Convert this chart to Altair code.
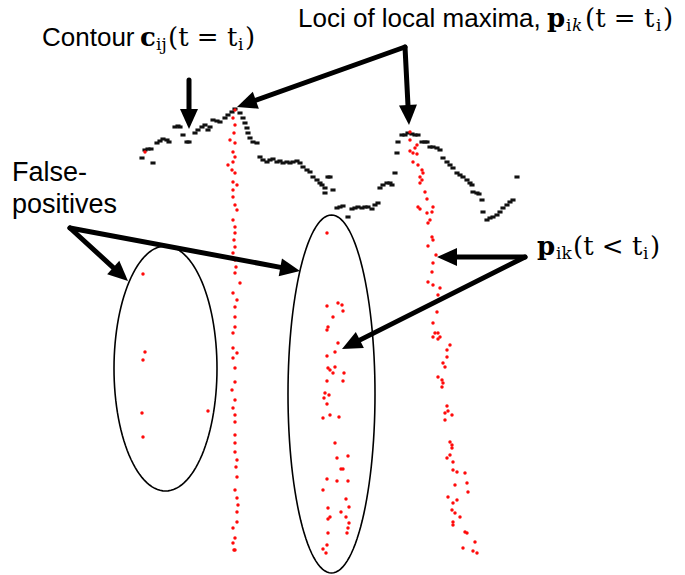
import altair as alt
import pandas as pd
import numpy as np

W, H = 685, 575

# ---- black contour c_ij(t = t_i) (pixel-space coordinates)
contour_x = [142, 145, 148, 151, 153, 157, 160, 163, 167, 169, 175, 178, 180, 183, 187, 189,
             195, 198, 202, 205, 208, 210, 213, 217, 220, 225, 228, 232, 235, 240, 243, 245,
             247, 248, 250, 253, 257, 260, 263, 267, 270, 273, 277, 280, 283, 287, 290, 293,
             297, 300, 303, 307, 310, 313, 317, 320, 322, 325, 325, 328, 330, 333, 337, 340,
             343, 348, 352, 355, 358, 362, 365, 368, 372, 375, 378, 380, 383, 387, 390, 392,
             395, 397, 398, 402, 405, 408, 412, 415, 418, 422, 425, 427, 430, 433, 437, 440,
             443, 447, 450, 453, 457, 460, 463, 467, 470, 472, 473, 477, 479, 482, 483, 487,
             490, 493, 497, 500, 503, 507, 510, 513, 517]
contour_y = [158, 150, 149, 149, 163, 143, 141, 139, 140, 142, 127, 126, 127, 135, 142, 142,
             133, 130, 127, 125, 130, 127, 120, 121, 122, 118, 115, 112, 109, 113, 118, 123,
             128, 133, 138, 142, 143, 157, 160, 162, 160, 159, 162, 161, 163, 162, 163, 162,
             161, 163, 167, 170, 172, 177, 180, 183, 185, 188, 193, 177, 177, 190, 208, 207,
             206, 217, 209, 208, 207, 208, 207, 207, 209, 205, 203, 188, 185, 183, 183, 185,
             173, 153, 142, 135, 135, 133, 134, 135, 135, 142, 142, 142, 147, 147, 148, 150,
             158, 162, 165, 168, 173, 175, 177, 180, 183, 185, 192, 193, 194, 200, 212, 220,
             218, 217, 215, 212, 208, 205, 202, 200, 177]

# ---- red loci of local maxima p_ik(t <= t_i)
red_x = [145,
         235, 233, 235, 234, 230, 235, 233, 235, 233, 228, 232, 235, 233, 237, 233, 233, 235,
         237, 233, 235, 235, 234, 235, 233, 235, 236, 235, 240, 233, 237, 235, 235, 235, 233,
         233, 237, 233, 235, 235, 232, 235, 233, 235, 235, 235, 235, 235, 237, 236, 237, 235,
         237, 238, 237, 237, 233, 235, 233, 234, 235,
         410, 410, 417, 415, 410, 413, 417, 413, 418, 422, 423, 420, 422, 420, 425, 427, 418,
         420, 433, 432, 427, 430, 428, 432, 433, 428, 436, 433, 432, 428, 433, 440, 438, 433,
         437, 433, 435, 440, 438, 433, 438, 450, 447, 447, 443, 445, 438, 442, 443, 442, 447,
         445, 448, 452, 445, 450, 452, 452, 447, 450, 453, 453, 457, 465, 455, 467, 468, 448,
         457, 453, 452, 455, 460, 453, 453, 465, 467, 475, 463, 473, 477]
red_y = [152,
         110, 118, 125, 133, 140, 143, 152, 157, 162, 165, 170, 173, 182, 185, 190, 197, 205,
         210, 220, 227, 233, 240, 247, 253, 260, 267, 273, 283, 293, 300, 307, 317, 327, 333,
         348, 353, 358, 368, 382, 390, 400, 408, 415, 422, 435, 443, 452, 460, 467, 477, 490,
         498, 505, 512, 522, 528, 538, 543, 550, 550,
         132, 140, 145, 148, 151, 153, 154, 162, 165, 170, 173, 177, 180, 183, 192, 199, 207,
         209, 207, 212, 213, 220, 223, 237, 240, 246, 255, 263, 272, 282, 285, 288, 295, 303,
         312, 323, 333, 337, 333, 337, 339, 345, 350, 357, 363, 367, 377, 380, 383, 387, 406,
         413, 411, 415, 420, 442, 445, 448, 458, 455, 462, 470, 472, 473, 485, 483, 492, 497,
         500, 503, 510, 513, 517, 522, 525, 532, 533, 542, 548, 551, 553]

# ---- false positives
fp_x = [143, 145, 143, 142, 208, 143,
        327, 327, 338, 342, 343, 333, 328, 327, 338, 335, 327, 328, 335, 330, 333, 344, 343,
        327, 325, 329, 324, 327, 323, 330, 339, 335, 337, 348, 341, 343, 327, 337, 348, 323,
        346, 328, 349, 341, 330, 328, 346, 349, 348, 347, 328, 327, 323, 326]
fp_y = [274, 352, 360, 413, 411, 437,
        233, 306, 303, 305, 311, 317, 327, 330, 343, 352, 356, 368, 367, 370, 373, 373, 381,
        381, 393, 395, 398, 404, 418, 415, 417, 443, 458, 456, 469, 469, 479, 481, 481, 490,
        499, 508, 507, 512, 517, 519, 517, 523, 528, 533, 533, 545, 549, 553]

# ---- ellipses marking false positives: centre x, centre y, half-width, half-height
ell_cx = [165.5, 331.5]
ell_cy = [368.5, 394.0]
ell_rx = [51.5, 43.5]
ell_ry = [122.5, 179.0]

# ---- arrows: shaft start -> tip
arr_x0 = [189, 405, 405, 70, 70, 525, 525]
arr_y0 = [80, 47, 47, 228, 228, 257, 257]
arr_x1 = [189, 237, 409, 128, 300, 437, 342]
arr_y1 = [129, 107, 125, 281, 271, 257, 349]

# ---- labels
sans_text = ["Contour", "Loci of local maxima,", "False-", "positives"]
sans_x = [42, 298, 12, 12]
sans_y = [46, 27, 181, 213]
sans_size = [26, 26, 27, 27]

bold_text = ["c", "p", "p"]
bold_x = [140, 547, 537]
bold_y = [46, 27, 255]

serif_text = ["(t = t", ")", "(t = t", ")", "(t < t", ")"]
serif_x = [168, 245, 585, 663, 573, 650]
serif_y = [46, 46, 27, 27, 255, 255]

sub_text = ["ij", "i", "i", "i", "ik", "i"]
sub_x = [156, 238, 566, 656, 556, 643]
sub_y = [50, 50, 31, 31, 259, 259]

ital_sub_text = ["k"]
ital_sub_x = [572]
ital_sub_y = [31]

# ------------------------------------------------------------------
xs = alt.Scale(domain=[0, W], nice=False, zero=False)
ys = alt.Scale(domain=[0, H], nice=False, zero=False, reverse=True)
X = lambda f="x": alt.X(f"{f}:Q", scale=xs, axis=None)
Y = lambda f="y": alt.Y(f"{f}:Q", scale=ys, axis=None)

contour_df = pd.DataFrame({"x": contour_x, "y": contour_y})
red_df = pd.DataFrame({"x": red_x + fp_x, "y": red_y + fp_y})

# ellipse outlines
rows = []
t = np.linspace(0, 2 * np.pi, 121)
for k in range(len(ell_cx)):
    for i, a in enumerate(t):
        rows.append({"e": k, "o": i,
                     "x": ell_cx[k] + ell_rx[k] * np.cos(a),
                     "y": ell_cy[k] + ell_ry[k] * np.sin(a)})
ell_df = pd.DataFrame(rows)

# arrows: shaft ends and heads derived from start/tip
HEAD = 20.0
shaft, heads = [], []
for x0, y0, x1, y1 in zip(arr_x0, arr_y0, arr_x1, arr_y1):
    dx, dy = x1 - x0, y1 - y0
    L = float(np.hypot(dx, dy))
    ux, uy = dx / L, dy / L
    shaft.append({"x": x0, "y": y0, "x2": x1 - ux * (HEAD - 3), "y2": y1 - uy * (HEAD - 3)})
    ang = (np.degrees(np.arctan2(dx, -dy)) + 360) % 360
    heads.append({"x": x1 - ux * HEAD / 2, "y": y1 - uy * HEAD / 2, "ang": ang})
shaft_df = pd.DataFrame(shaft)
head_df = pd.DataFrame(heads)

ellipses = alt.Chart(ell_df).mark_line(color="black", strokeWidth=1.6).encode(
    x=X(), y=Y(), detail="e:N", order="o:Q")

contour = alt.Chart(contour_df).mark_point(
    shape="M-1,-0.6L1,-0.6L1,0.6L-1,0.6Z", filled=True, color="#111111",
    size=26, opacity=1).encode(x=X(), y=Y())

reds = alt.Chart(red_df).mark_circle(color="#ff0a0a", size=12, opacity=1).encode(x=X(), y=Y())

shafts = alt.Chart(shaft_df).mark_rule(color="black", strokeWidth=5, strokeCap="round").encode(
    x=X(), y=Y(), x2="x2:Q", y2="y2:Q")

arrowheads = alt.Chart(head_df).mark_point(
    shape="M0,-1L0.9,1L-0.9,1Z", filled=True, color="black", size=HEAD ** 2, opacity=1
).encode(x=X(), y=Y(), angle=alt.Angle("ang:Q", scale=None))


def text_layer(texts, xv, yv, size_list=None, **kw):
    df = pd.DataFrame({"x": xv, "y": yv, "t": texts})
    enc = dict(x=X(), y=Y(), text="t:N")
    if size_list is not None:
        df["s"] = size_list
        enc["size"] = alt.Size("s:Q", scale=None, legend=None)
    return alt.Chart(df).mark_text(align="left", baseline="alphabetic", color="black", **kw).encode(**enc)


labels = [
    text_layer(sans_text, sans_x, sans_y, size_list=sans_size, font="Liberation Sans"),
    text_layer(bold_text, bold_x, bold_y, font="DejaVu Serif", fontSize=26, fontWeight="bold"),
    text_layer(serif_text, serif_x, serif_y, font="DejaVu Serif", fontSize=26),
    text_layer(sub_text, sub_x, sub_y, font="DejaVu Serif", fontSize=17),
    text_layer(ital_sub_text, ital_sub_x, ital_sub_y, font="DejaVu Serif", fontSize=17,
               fontStyle="italic"),
]

chart = alt.layer(ellipses, contour, reds, shafts, arrowheads, *labels).properties(
    width=W, height=H, padding=0, autosize=alt.AutoSizeParams(type="none"),
    background="white"
).configure_view(stroke=None)

chart.save("out.html", embed_options={"renderer": "svg", "actions": False})
